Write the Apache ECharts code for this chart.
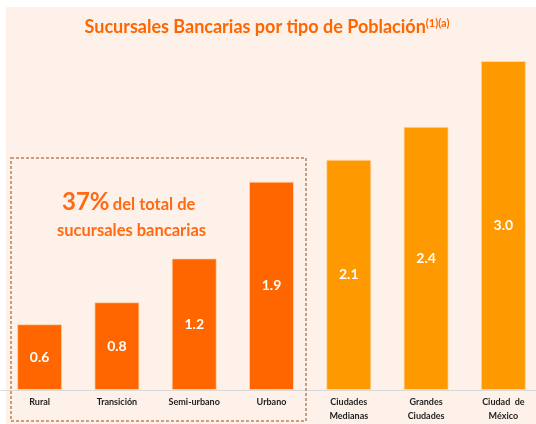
<!DOCTYPE html>
<html>
<head>
<meta charset="utf-8">
<script src="https://cdn.jsdelivr.net/npm/echarts@6/dist/echarts.min.js"></script>
<style>
  html, body { margin: 0; padding: 0; background: #fff; }
  #chart { width: 536px; height: 424px; }
</style>
</head>
<body>
<div id="chart"></div>
<script>
// datos
const categorias = ["Rural", "Transición", "Semi-urbano", "Urbano", "Ciudades\nMedianas", "Grandes\nCiudades", "Ciudad  de\nMéxico"];
const valores = [0.6, 0.8, 1.2, 1.9, 2.1, 2.4, 3.0];
// primeros 4 = 37% del total (naranja oscuro), resto naranja claro
const grupo = [0, 0, 0, 0, 1, 1, 1];
const colores = ["#FF6600", "#FF9900"];

const chart = echarts.init(document.getElementById("chart"));

chart.setOption({
  backgroundColor: "#fff",
  textStyle: { fontFamily: "Lato" },
  title: {
    text: "{t|Sucursales Bancarias por tipo de Población}{s|(1)(a)}",
    left: 262,
    textAlign: "center",
    top: 13,
    textStyle: {
      rich: {
        t: { fontFamily: "Lato", fontSize: 18, fontWeight: "bold", color: "#FF6600", verticalAlign: "bottom" },
        s: { fontFamily: "Lato", fontSize: 11, fontWeight: "bold", color: "#FF6600", verticalAlign: "top", padding: [0, 0, 7, 0] },
      },
    },
  },
  graphic: [
    // fondo durazno
    { type: "rect", z: -10, shape: { x: 6, y: 7, width: 530, height: 417 }, style: { fill: "#FDF1E9" } },
    // recuadro punteado
    {
      type: "rect", z: 1,
      shape: { x: 11, y: 158, width: 295, height: 263 },
      style: { fill: null, stroke: "#B9835A", lineWidth: 1.5, lineDash: [3, 2] },
    },
    {
      type: "text", z: 5, left: 62, top: 190,
      style: {
        text: "{b|37%} {m|del total de}",
        rich: {
          b: { fontFamily: "Lato", fontSize: 24, fontWeight: "bold", fill: "#FF6A13" },
          m: { fontFamily: "Lato", fontSize: 16.5, fontWeight: "bold", fill: "#FF6A13", padding: [5, 0, 0, 0] },
        },
      },
    },
    {
      type: "text", z: 5, left: 57, top: 222,
      style: { text: "sucursales bancarias", font: "bold 16.5px Lato", fill: "#FF6A13" },
    },
  ],
  // la rejilla se sale un poco del lienzo por la derecha, como en el original
  grid: { left: 1, top: 61, width: 541, height: 329, outerBoundsMode: "none", containLabel: false },
  xAxis: {
    type: "category",
    data: categorias,
    axisLine: { show: true, lineStyle: { color: "#D9D9D9", width: 1 } },
    axisTick: { show: false },
    axisLabel: {
      interval: 0,
      margin: 5,
      fontFamily: "Lato",
      fontSize: 9,
      fontWeight: "bold",
      color: "#1F1F1F",
      lineHeight: 14,
    },
  },
  yAxis: { type: "value", min: 0, max: 3, show: false, splitLine: { show: false } },
  series: [
    {
      type: "bar",
      barWidth: 45,
      data: valores.map((v, i) => ({
        value: v,
        itemStyle: { color: colores[grupo[i]] },
      })),
      itemStyle: { borderColor: "rgba(255,220,180,0.7)", borderWidth: 1 },
      label: {
        show: true,
        position: "inside",
        formatter: (p) => p.value.toFixed(1),
        fontFamily: "Lato",
        fontSize: 14,
        fontWeight: "bold",
        color: "#fff",
      },
    },
  ],
});
</script>
</body>
</html>
